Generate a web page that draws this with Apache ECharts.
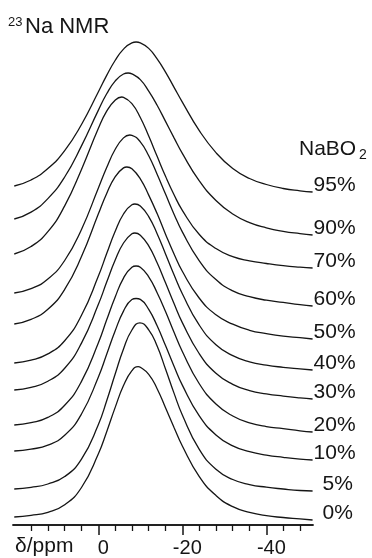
<!DOCTYPE html>
<html><head><meta charset="utf-8">
<script src="https://cdn.jsdelivr.net/npm/echarts@6/dist/echarts.min.js"></script>
<style>html,body{margin:0;padding:0;background:#fff;}#c{width:372px;height:558px;}</style>
</head><body><div id="c"></div>
<script>
// chemical shift sample positions (ppm)
const ppm = [20,16,12,8,4,0,-2,-4,-6,-8,-10,-12,-14,-16,-18,-20,-24,-28,-32,-36,-40,-44,-48,-51];
// NaBO2 content labels, top to bottom
const labels = ['95%','90%','70%','60%','50%','40%','30%','20%','10%','5%','0%'];
// vertical stacking offset of each spectrum baseline
const offsets = [333,290,257,219,186,155,126,93,65,34,5];
// peak maximum of each spectrum: position (ppm) and intensity
const peakPpm = [-9.0,-7.1,-5.6,-7.5,-6.8,-8.7,-8.7,-9.0,-9.0,-9.9,-9.5];
const peakInt = [150,162,171,171,172,166,166,166,161.5,168.2,153.3];
// spectrum intensities at the ppm positions
const s95 = [6.0,12.0,23.4,41.4,67.5,100.0,116.6,131.5,142.9,149.2,149.2,143.6,133.1,119.9,104.9,89.9,61.6,39.4,23.5,13.5,7.5,3.5,1.2,0];
const s90 = [16.0,22.9,36.4,58.0,89.1,124.6,141.2,153.9,161.0,161.1,155.4,143.8,129.7,113.6,97.4,81.6,54.4,34.5,21.0,12.4,7.2,3.7,1.4,0];
const s70 = [14.0,21.5,36.4,62.1,98.6,139.4,156.8,167.8,170.7,164.4,150.5,131.9,111.7,91.7,73.5,57.7,33.7,19.5,11.4,7.2,4.5,2.3,0.8,0];
const s60 = [13.0,17.3,26.9,45.5,76.6,117.8,138.5,156.5,168.1,170.7,164.2,150.2,131.7,111.9,92.1,74.1,45.4,26.4,15.1,9.3,5.8,3.6,1.4,0];
const s50 = [15.0,19.6,29.7,49.6,82.4,124.9,145.6,162.2,171.1,170.3,160.2,143.9,125.4,104.8,85.2,67.7,41.0,24.2,14.8,8.7,5.4,2.9,1.3,0];
const s40 = [7.0,9.8,16.1,29.3,54.7,93.7,116.4,138.5,156.0,165.3,164.0,153.4,136.3,116.1,95.5,76.2,45.1,25.3,14.3,8.1,4.8,2.7,1.1,0];
const s30 = [9.0,11.6,17.7,30.7,55.9,94.4,116.9,138.7,156.0,165.2,163.8,153.2,136.2,116.2,95.7,76.4,45.5,25.7,14.7,8.4,5.1,2.9,1.1,0];
const s20 = [7.0,9.4,14.6,26.8,50.6,89.0,112.2,134.8,153.9,164.8,164.8,155.2,139.3,120.5,100.0,80.5,48.5,28.0,16.0,9.2,5.4,3.4,1.2,0];
const s10 = [9.0,10.9,14.8,24.7,46.0,82.8,105.7,129.0,148.9,160.5,160.6,150.6,134.2,114.4,94.1,74.9,44.3,25.1,14.1,8.3,4.9,2.7,0.9,0];
const s5  = [2.0,3.6,7.0,14.4,31.9,66.3,90.3,116.7,142.1,161.0,168.0,161.2,144.9,122.0,98.1,76.1,41.8,21.7,11.5,6.4,3.8,2.0,0.5,0];
const s0  = [3.0,4.6,7.7,15.2,32.5,66.0,88.3,112.4,134.4,149.3,152.7,145.7,131.3,112.2,92.8,74.0,43.6,24.5,13.3,7.6,4.3,2.5,1.1,0];
const spectra = [s95,s90,s70,s60,s50,s40,s30,s20,s10,s5,s0];
// axis ticks
const minorTicks = [16,12,8,4,-4,-8,-12,-16,-24,-28,-32,-36,-44,-48];
const majorTicks = [0,-20,-40];

function seriesData(k){
  const pts = [];
  ppm.forEach((p,i)=>{ if (Math.abs(p-peakPpm[k]) >= 0.3) pts.push([p, offsets[k]+spectra[k][i]]); });
  pts.push([peakPpm[k], offsets[k]+peakInt[k]]);
  pts.sort((a,b)=>b[0]-a[0]);
  return pts;
}

const FONT = "'Liberation Sans', Arial, Helvetica, sans-serif";
const INK = '#151515';
const axisBase = {
  type:'value', min:-51.1, max:20.3, inverse:true, position:'bottom',
  splitLine:{show:false},
  axisLine:{show:true, onZero:false, lineStyle:{color:INK, width:1.5}}
};
const chart = echarts.init(document.getElementById('c'), null, {renderer:'canvas'});
chart.setOption({
  animation:false,
  backgroundColor:'#fff',
  grid:{left:13, right:59, top:25, bottom:33, containLabel:false, outerBoundsMode:'none'},
  xAxis:[
    Object.assign({}, axisBase, {
      axisTick:{show:true, length:6, lineStyle:{color:INK, width:1.3}, customValues:minorTicks},
      axisLabel:{show:false}
    }),
    Object.assign({}, axisBase, {
      axisTick:{show:true, length:10, lineStyle:{color:INK, width:1.5}, customValues:majorTicks},
      axisLabel:{show:true, customValues:majorTicks, formatter:v=>String(v), fontSize:20,
        fontFamily:FONT, color:INK, margin:13, padding:[0,0,0,10]}
    })
  ],
  yAxis:{type:'value', min:0, max:500, show:false},
  series: labels.map((name,k)=>({
    type:'line', name, xAxisIndex:0, yAxisIndex:0,
    symbol:'none', showSymbol:false, smooth:0.5, silent:true,
    lineStyle:{color:INK, width:1.3},
    data: seriesData(k),
    endLabel:{show:true, formatter:name, distance:0, offset:[k>=9?10:1,-7],
      fontSize:21, fontFamily:FONT, color:INK, align:'left', verticalAlign:'middle'}
  })),
  graphic:[
    {type:'text', x:8, y:22, style:{text:'23', font:'13px '+FONT, fill:INK, align:'left', verticalAlign:'middle'}},
    {type:'text', x:25, y:26.5, style:{text:'Na NMR', font:'22px '+FONT, fill:INK, align:'left', verticalAlign:'middle'}},
    {type:'text', x:299, y:149, style:{text:'NaBO', font:'21px '+FONT, fill:INK, align:'left', verticalAlign:'middle'}},
    {type:'text', x:359, y:155, style:{text:'2', font:'14px '+FONT, fill:INK, align:'left', verticalAlign:'middle'}},
    {type:'text', x:15, y:546, style:{text:'δ/ppm', font:'21px '+FONT, fill:INK, align:'left', verticalAlign:'middle'}}
  ]
});
</script></body></html>
